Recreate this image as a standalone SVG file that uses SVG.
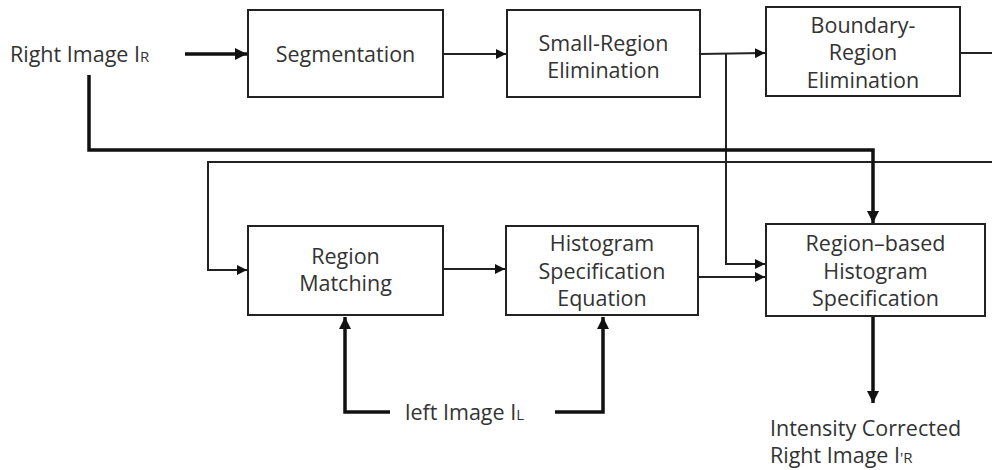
<svg xmlns="http://www.w3.org/2000/svg" width="992" height="470" viewBox="0 0 992 470">
<defs>
<marker id="ah" viewBox="0 0 10 10" refX="10" refY="5" markerWidth="10" markerHeight="10" markerUnits="userSpaceOnUse" orient="auto">
<path d="M0,0 L10,5 L0,10 z" fill="#111"/>
</marker>
<marker id="ahb" viewBox="0 0 10 10" refX="10" refY="5" markerWidth="12" markerHeight="12" markerUnits="userSpaceOnUse" orient="auto">
<path d="M0,0 L10,5 L0,10 z" fill="#111"/>
</marker>
</defs>
<style>
.box{fill:#fff;stroke:#222;stroke-width:2}
.t{font-family:"Open Sans","Noto Sans","DejaVu Sans",sans-serif;font-size:21.5px;fill:#333;text-anchor:middle}
.tl{font-family:"Open Sans","Noto Sans","DejaVu Sans",sans-serif;font-size:21.5px;fill:#333}
.thin{fill:none;stroke:#222;stroke-width:2}
.thick{fill:none;stroke:#111;stroke-width:3.5}
.sub{font-size:15px}
</style>
<rect width="992" height="470" fill="#fff"/>
<g id="connectors">
<path class="thick" d="M185,54 L247,54" marker-end="url(#ahb)"/>
<path class="thin" d="M443,54 L506,54" marker-end="url(#ah)"/>
<path class="thin" d="M700,54 L765,53" marker-end="url(#ah)"/>
<path class="thin" d="M726,54 L726,264 L765,264" marker-end="url(#ah)"/>
<path class="thin" d="M960,53 L992,53"/>
<path class="thin" d="M992,162 L208,162 L208,270 L247,270" marker-end="url(#ah)"/>
<path class="thick" d="M89,75 L89,150 L873,150 L873,223" marker-end="url(#ahb)"/>
<path class="thin" d="M443,269 L505,269" marker-end="url(#ah)"/>
<path class="thin" d="M698,277 L765,277" marker-end="url(#ah)"/>
<path class="thick" d="M873,316 L873,403" marker-end="url(#ahb)"/>
<path class="thick" d="M390,412 L345,412 L345,317" marker-end="url(#ahb)"/>
<path class="thick" d="M555,412 L603,412 L603,317" marker-end="url(#ahb)"/>
</g>
<g id="right-image">
<text class="tl" x="10" y="62">Right Image  I<tspan class="sub">R</tspan></text>
</g>
<g id="segmentation">
<rect class="box" x="248" y="10" width="195" height="87"/>
<text class="t" x="345.5" y="62">Segmentation</text>
</g>
<g id="small-region">
<rect class="box" x="507" y="10" width="193" height="87"/>
<text class="t" x="603.5" y="51">Small-Region</text>
<text class="t" x="603.5" y="78">Elimination</text>
</g>
<g id="boundary-region">
<rect class="box" x="766" y="7" width="194" height="89"/>
<text class="t" x="863" y="33">Boundary-</text>
<text class="t" x="863" y="60">Region</text>
<text class="t" x="863" y="88">Elimination</text>
</g>
<g id="region-matching">
<rect class="box" x="248" y="226" width="195" height="89"/>
<text class="t" x="345.5" y="264">Region</text>
<text class="t" x="345.5" y="291">Matching</text>
</g>
<g id="histogram-spec-eq">
<rect class="box" x="506" y="226" width="192" height="89"/>
<text class="t" x="602" y="251">Histogram</text>
<text class="t" x="602" y="279">Specification</text>
<text class="t" x="602" y="306">Equation</text>
</g>
<g id="region-based">
<rect class="box" x="766" y="224" width="219" height="92"/>
<text class="t" x="875.5" y="251">Region–based</text>
<text class="t" x="875.5" y="279">Histogram</text>
<text class="t" x="875.5" y="306">Specification</text>
</g>
<g id="left-image">
<text class="tl" x="405" y="420">left Image  I<tspan class="sub">L</tspan></text>
</g>
<g id="output">
<text class="tl" x="770" y="436">Intensity Corrected</text>
<text class="tl" x="770" y="463">Right Image  I<tspan class="sub">'R</tspan></text>
</g>
</svg>
